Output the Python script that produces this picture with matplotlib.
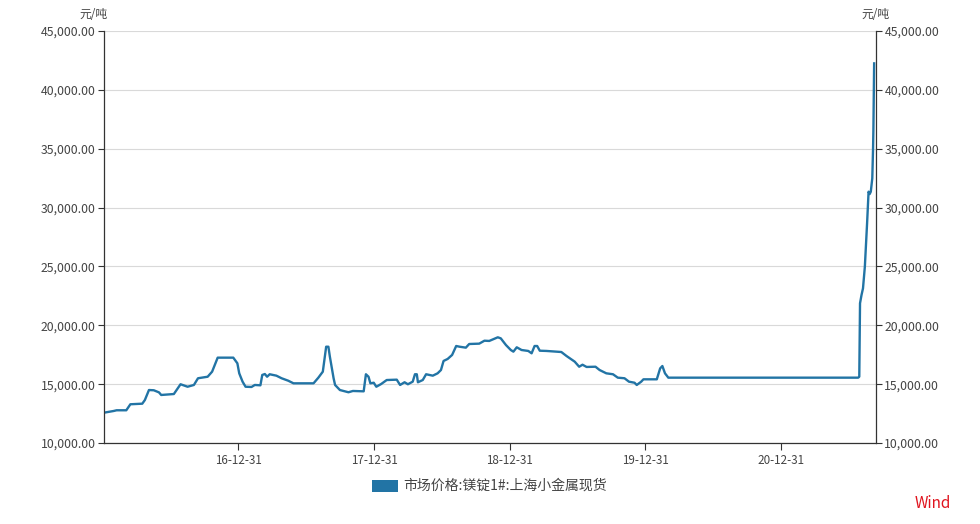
import matplotlib
matplotlib.use("Agg")
import matplotlib.pyplot as plt
import matplotlib.dates as mdates
import matplotlib.ticker as mticker
import pandas as pd
import numpy as np

plt.rcParams['font.family'] = ['Noto Sans CJK SC', 'DejaVu Sans']

dates = [
    "2016-01-04", "2016-01-30", "2016-02-07", "2016-03-04", "2016-03-15", "2016-04-16",
    "2016-04-23", "2016-05-04", "2016-05-17", "2016-05-31", "2016-06-06", "2016-07-10",
    "2016-07-28", "2016-08-16", "2016-09-02", "2016-09-13", "2016-10-09", "2016-10-21",
    "2016-11-05", "2016-12-17", "2016-12-28", "2017-01-02", "2017-01-11", "2017-01-19",
    "2017-02-04", "2017-02-13", "2017-02-28", "2017-03-05", "2017-03-12", "2017-03-18",
    "2017-03-25", "2017-04-12", "2017-04-26", "2017-05-14", "2017-05-28", "2017-07-21",
    "2017-08-03", "2017-08-15", "2017-08-24", "2017-08-30", "2017-09-03", "2017-09-13",
    "2017-09-17", "2017-09-30", "2017-10-23", "2017-11-04", "2017-12-03", "2017-12-09",
    "2017-12-16", "2017-12-21", "2017-12-30", "2018-01-06", "2018-01-19", "2018-02-03",
    "2018-03-02", "2018-03-11", "2018-03-23", "2018-04-01", "2018-04-14", "2018-04-20",
    "2018-04-25", "2018-04-28", "2018-05-11", "2018-05-20", "2018-06-07", "2018-06-20",
    "2018-06-29", "2018-07-06", "2018-07-17", "2018-07-29", "2018-08-09", "2018-08-18",
    "2018-09-04", "2018-09-13", "2018-10-10", "2018-10-24", "2018-11-06", "2018-11-29",
    "2018-12-07", "2018-12-21", "2019-01-03", "2019-01-10", "2019-01-19", "2019-02-01",
    "2019-02-19", "2019-02-28", "2019-03-08", "2019-03-15", "2019-03-22", "2019-04-09",
    "2019-05-19", "2019-06-02", "2019-06-24", "2019-07-06", "2019-07-15", "2019-07-26",
    "2019-08-19", "2019-08-30", "2019-09-17", "2019-10-05", "2019-10-18", "2019-11-05",
    "2019-11-17", "2019-12-02", "2019-12-08", "2019-12-20", "2019-12-26", "2020-01-31",
    "2020-02-09", "2020-02-15", "2020-02-22", "2020-03-02", "2021-07-26", "2021-07-29",
    "2021-07-31", "2021-08-04", "2021-08-08", "2021-08-13", "2021-08-19", "2021-08-23",
    "2021-08-26", "2021-08-29", "2021-09-02", "2021-09-04", "2021-09-05", "2021-09-07",
]
prices = [
    12575, 12720, 12780, 12780, 13290, 13340,
    13650, 14500, 14480, 14300, 14080, 14160,
    14990, 14780, 14930, 15500, 15630, 16060,
    17250, 17250, 16770, 15920, 15210, 14780,
    14760, 14930, 14900, 15780, 15860, 15630,
    15840, 15720, 15500, 15290, 15070, 15070,
    15550, 16060, 18180, 18180, 17330, 15500,
    14930, 14500, 14310, 14420, 14390, 15840,
    15630, 15070, 15120, 14780, 15010, 15350,
    15380, 14930, 15160, 14990, 15210, 15840,
    15840, 15160, 15350, 15840, 15720, 15920,
    16200, 16970, 17140, 17480, 18240, 18180,
    18100, 18410, 18440, 18690, 18670, 18980,
    18890, 18320, 17900, 17760, 18130, 17900,
    17820, 17620, 18240, 18240, 17840, 17820,
    17730, 17390, 16910, 16480, 16650, 16460,
    16480, 16200, 15920, 15840, 15550, 15500,
    15210, 15120, 14930, 15210, 15410, 15410,
    16340, 16540, 15920, 15550, 15550, 15630,
    21870, 22570, 23140, 24980, 28660, 31350,
    31150, 31350, 32490, 34890, 36590, 42250,
]
series_name = "市场价格:镁锭1#:上海小金属现货"
unit_label = "元/吨"
x_tick_dates = ["2016-12-31", "2017-12-31", "2018-12-31", "2019-12-31", "2020-12-31"]
y_ticks = [10000, 15000, 20000, 25000, 30000, 35000, 40000, 45000]

x = pd.to_datetime(dates)
fig = plt.figure(figsize=(9.8, 5.24), dpi=100)
ax = fig.add_axes([104/980, 1-443/524, (876-104)/980, (443-31)/524])

line_color = '#2274a5'
ax.plot(x, prices, color=line_color, lw=1.7, solid_joinstyle='round')

ax.set_xlim(pd.Timestamp("2016-01-04"), pd.Timestamp("2021-09-12"))
ax.set_ylim(10000, 45000)
ax.set_yticks(y_ticks)
ax.yaxis.set_major_formatter(mticker.FuncFormatter(lambda v, p: f"{v:,.2f}"))
ax.set_xticks(pd.to_datetime(x_tick_dates))
ax.xaxis.set_major_formatter(mdates.DateFormatter("%y-%m-%d"))

ax.grid(axis='y', color='#d9d9d9', lw=0.8)
ax.set_axisbelow(True)
for s in ['left', 'right', 'bottom']:
    ax.spines[s].set_color('#333333')
    ax.spines[s].set_linewidth(0.9)
ax.spines['top'].set_visible(False)

ax.tick_params(axis='y', which='both', left=True, right=True, labelleft=True, labelright=True,
               length=4, width=0.8, color='#333333', labelcolor='#444444', labelsize=8.8, pad=2)
ax.tick_params(axis='x', length=5, width=0.8, color='#333333', labelcolor='#444444', labelsize=8.4, pad=3)

fig.text(93/980, 1-14/524, unit_label, ha='center', va='center', fontsize=8.5, color='#444444')
fig.text(875/980, 1-14/524, unit_label, ha='center', va='center', fontsize=8.5, color='#444444')

# legend
from matplotlib.patches import Rectangle
fig.patches.append(Rectangle((372/980, 1-492/524), 26/980, 12/524, transform=fig.transFigure,
                             facecolor=line_color, edgecolor='none'))
fig.text(403/980, 1-486/524, series_name, ha='left', va='center', fontsize=10, color='#444444')
fig.text(951/980, 1-504/524, "Wind", ha='right', va='center', fontsize=11, color='#e0141e')

fig.savefig("out.png", dpi=100)
